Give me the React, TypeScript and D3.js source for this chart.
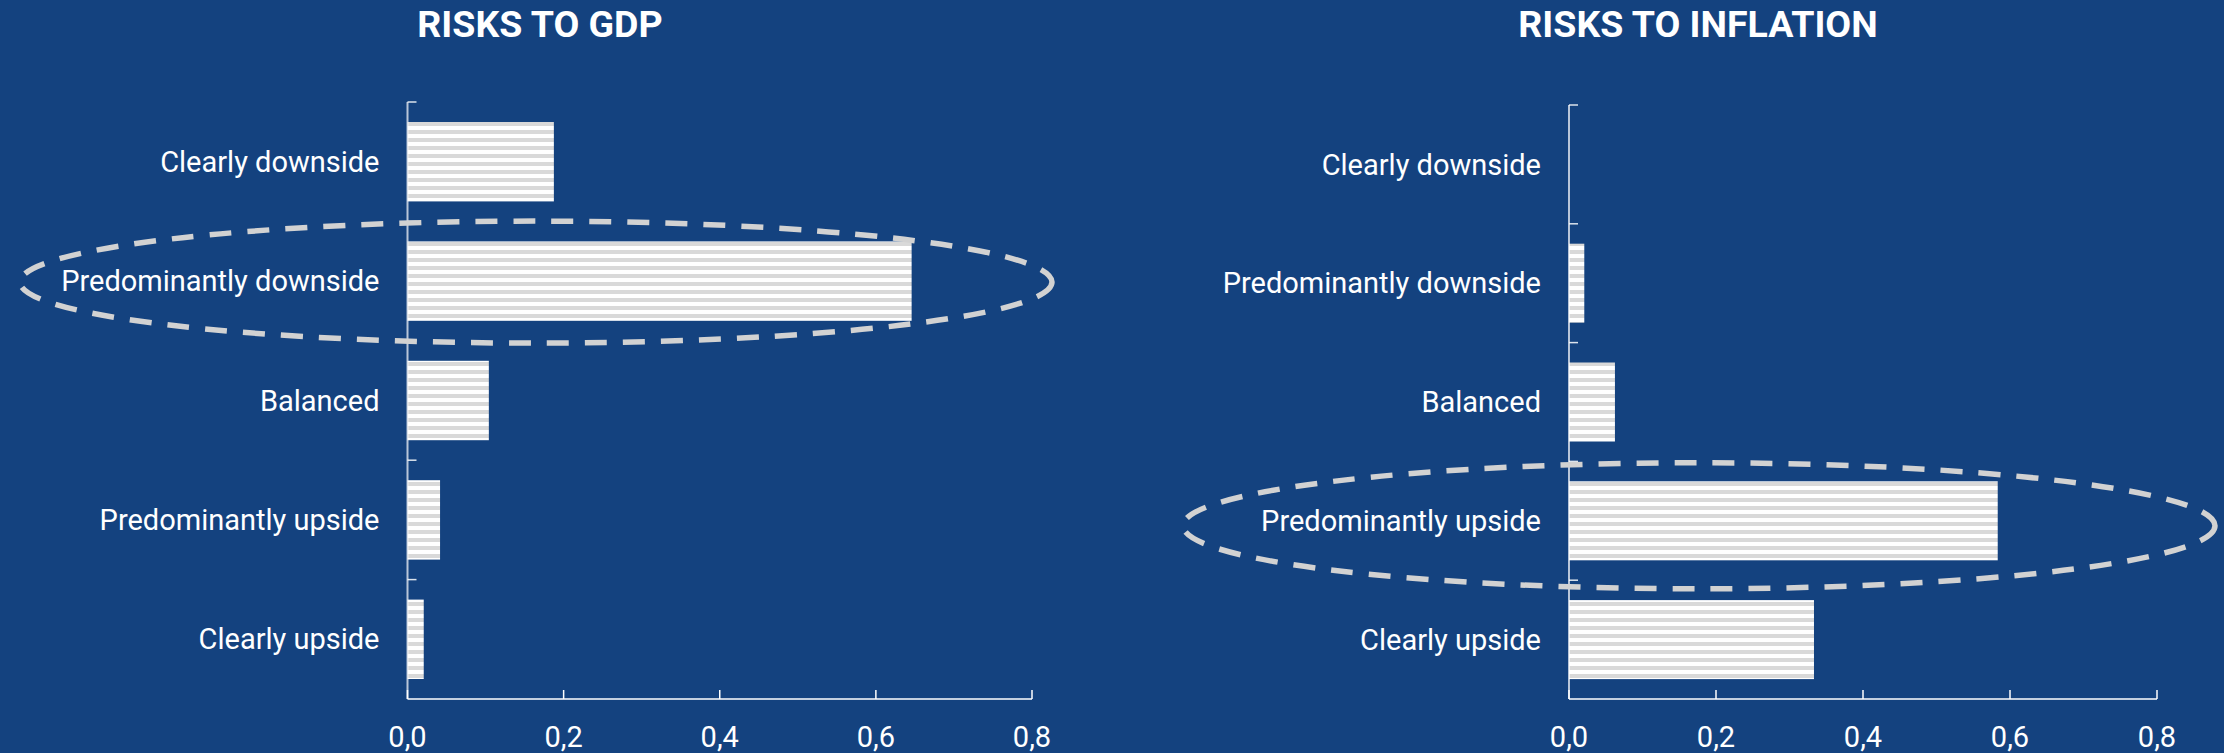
import React from "react";
import * as d3 from "d3";

// Survey answers: share of respondents per risk assessment
const categories = [
  "Clearly downside",
  "Predominantly downside",
  "Balanced",
  "Predominantly upside",
  "Clearly upside",
];
const gdpValues = [0.1875, 0.6458, 0.1042, 0.0417, 0.0208];
const inflationValues = [0, 0.0208, 0.0625, 0.5833, 0.3333];
const xTicks = [0, 0.2, 0.4, 0.6, 0.8];
const titles = ["RISKS TO GDP", "RISKS TO INFLATION"];
const highlighted = ["Predominantly downside", "Predominantly upside"];

const W = 2224;
const H = 753;
const BG = "#14427f";
const FONT = "Roboto, 'Noto Sans', sans-serif";

const fmt = d3.formatLocale({ decimal: ",", thousands: ".", grouping: [3], currency: ["", "€"] }).format(".1f");

type PanelProps = {
  title: string;
  values: number[];
  highlight: string;
  x0: number;
  x1: number;
  yTop: number;
  yBottom: number;
  titleX: number;
  ellipse: { cx: number; dy: number; rx: number; ry: number };
};

function Panel({ title, values, highlight, x0, x1, yTop, yBottom, titleX, ellipse }: PanelProps) {
  const x = d3.scaleLinear().domain([0, 0.8]).range([x0, x1]);
  const pad = 0.335;
  const y = d3
    .scaleBand<string>()
    .domain(categories)
    .range([yTop, yBottom])
    .paddingInner(pad)
    .paddingOuter(pad / 2);
  const step = y.step();
  const boundaries = d3.range(categories.length + 1).map((i) => yTop + i * step);
  const hy = (y(highlight) ?? 0) + y.bandwidth() / 2;

  return (
    <g>
      <text
        x={titleX}
        y={37}
        textAnchor="middle"
        fill="#ffffff"
        fontFamily={FONT}
        fontWeight={700}
        fontSize={37.5}
      >
        {title}
      </text>

      {/* bars */}
      {categories.map((c, i) =>
        values[i] > 0 ? (
          <rect
            key={c}
            x={x(0)}
            y={y(c)}
            width={x(values[i]) - x(0)}
            height={y.bandwidth()}
            fill="url(#stripes)"
          />
        ) : null
      )}

      {/* category axis */}
      <line x1={x0} x2={x0} y1={yTop} y2={yBottom} stroke="rgba(255,255,255,0.7)" strokeWidth={2} />
      {boundaries.slice(0, -1).map((b, i) => (
        <line key={i} x1={x0} x2={x0 + 9} y1={b} y2={b} stroke="rgba(255,255,255,0.85)" strokeWidth={1.5} />
      ))}
      {categories.map((c) => (
        <text
          key={c}
          x={x0 - 28}
          y={(y(c) ?? 0) + y.bandwidth() / 2}
          dy="0.35em"
          textAnchor="end"
          fill="#ffffff"
          fontFamily={FONT}
          fontSize={29}
        >
          {c}
        </text>
      ))}

      {/* value axis */}
      <line x1={x0} x2={x1} y1={yBottom} y2={yBottom} stroke="#ffffff" strokeWidth={1.5} />
      {xTicks.map((t) => (
        <g key={t}>
          <line x1={x(t)} x2={x(t)} y1={yBottom} y2={yBottom - 9} stroke="#ffffff" strokeWidth={1.5} />
          <text
            x={x(t)}
            y={747}
            textAnchor="middle"
            fill="#ffffff"
            fontFamily={FONT}
            fontSize={29}
          >
            {fmt(t)}
          </text>
        </g>
      ))}

      {/* highlight ring */}
      <ellipse
        cx={ellipse.cx}
        cy={hy + ellipse.dy}
        rx={ellipse.rx}
        ry={ellipse.ry}
        fill="none"
        stroke="#d2d2d2"
        strokeWidth={5.5}
        strokeDasharray="22 16"
      />
    </g>
  );
}

export default function App() {
  return (
    <svg
      width={W}
      height={H}
      style={{ position: "absolute", left: 0, top: 0, display: "block" }}
    >
      <defs>
        <pattern id="stripes" patternUnits="userSpaceOnUse" width={8} height={8}>
          <rect x={0} y={0} width={8} height={8} fill="#ffffff" />
          <rect x={0} y={2} width={8} height={4} fill="#d9d9d9" />
        </pattern>
      </defs>
      <rect x={0} y={0} width={W} height={H} fill={BG} />
      <Panel
        title={titles[0]}
        values={gdpValues}
        highlight={highlighted[0]}
        x0={407.5}
        x1={1032}
        yTop={102}
        yBottom={699}
        titleX={540}
        ellipse={{ cx: 536, dy: 1, rx: 516, ry: 61 }}
      />
      <Panel
        title={titles[1]}
        values={inflationValues}
        highlight={highlighted[1]}
        x0={1569}
        x1={2157}
        yTop={105}
        yBottom={699}
        titleX={1698}
        ellipse={{ cx: 1699, dy: 5, rx: 516, ry: 63 }}
      />
    </svg>
  );
}
